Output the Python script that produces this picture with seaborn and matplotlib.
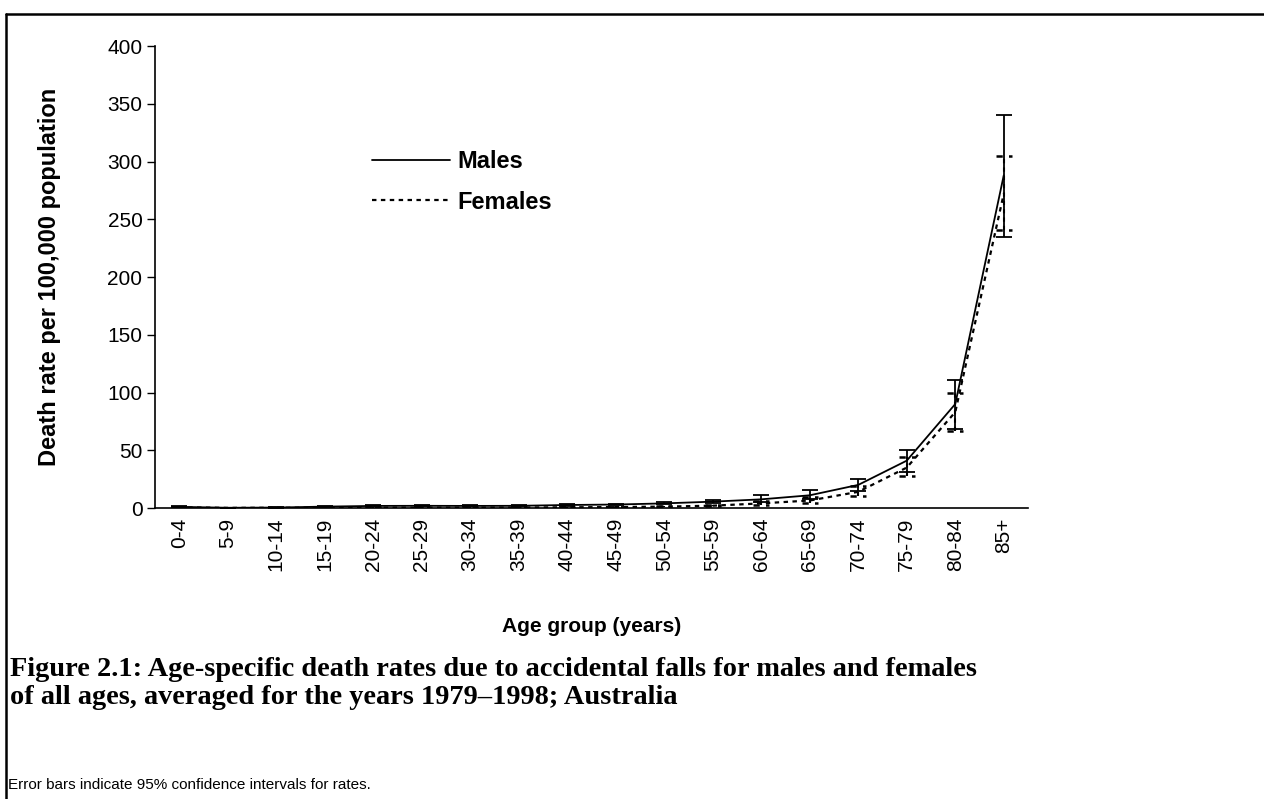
import numpy as np
import pandas as pd
import matplotlib
matplotlib.use("Agg")
import matplotlib.pyplot as plt
from matplotlib.lines import Line2D
import seaborn as sns

# Age groups and rates per 100,000
ages = ["0-4", "5-9", "10-14", "15-19", "20-24", "25-29", "30-34", "35-39", "40-44",
        "45-49", "50-54", "55-59", "60-64", "65-69", "70-74", "75-79", "80-84", "85+"]

males = [1.0, 0.2, 0.4, 1.2, 1.8, 1.9, 1.8, 1.9, 2.6, 3.0, 4.0, 5.5, 7.5, 11.0, 20.0, 41.0, 90.0, 288.0]
males_lo = [0.6, 0.1, 0.2, 0.8, 1.3, 1.4, 1.3, 1.4, 2.0, 2.3, 3.1, 4.3, 5.5, 7.5, 14.5, 31.0, 68.0, 235.0]
males_hi = [1.4, 0.4, 0.7, 1.6, 2.3, 2.4, 2.3, 2.5, 3.3, 3.8, 5.0, 6.8, 11.0, 15.5, 25.5, 50.0, 111.0, 340.0]

females = [0.6, 0.1, 0.2, 0.3, 0.3, 0.3, 0.3, 0.4, 0.6, 0.8, 1.2, 2.0, 4.0, 6.5, 14.0, 35.0, 83.0, 272.0]
females_lo = [0.3, 0.0, 0.1, 0.1, 0.1, 0.1, 0.1, 0.2, 0.3, 0.5, 0.7, 1.3, 3.0, 4.0, 10.5, 27.5, 67.0, 241.0]
females_hi = [0.9, 0.2, 0.3, 0.5, 0.5, 0.5, 0.5, 0.6, 0.9, 1.1, 1.7, 2.8, 6.0, 9.5, 19.0, 44.0, 100.0, 305.0]

yticks = [0, 50, 100, 150, 200, 250, 300, 350, 400]

pos = np.arange(len(ages))
df = pd.DataFrame({"pos": pos, "Males": males, "Females": females})

sns.set_style("white")
plt.rcParams["font.family"] = ["Liberation Sans", "DejaVu Sans"]
for k in ["text.color", "axes.labelcolor", "xtick.color", "ytick.color"]:
    plt.rcParams[k] = "black"

fig = plt.figure(figsize=(12.64, 7.99), dpi=100)
ax = fig.add_axes([155 / 1264, 1 - 508 / 799, 873 / 1264, 462 / 799])

sns.lineplot(data=df, x="pos", y="Males", ax=ax, color="black", lw=1.3, label="Males")
sns.lineplot(data=df, x="pos", y="Females", ax=ax, color="black", lw=1.6, label="Females")
ax.lines[1].set_dashes((2, 2))

# error bars (95% CI)
m_err = [np.subtract(males, males_lo), np.subtract(males_hi, males)]
f_err = [np.subtract(females, females_lo), np.subtract(females_hi, females)]
ax.errorbar(pos, males, yerr=m_err, fmt="none", ecolor="black", elinewidth=1.3,
            capsize=6, capthick=1.3)
fe = ax.errorbar(pos, females, yerr=f_err, fmt="none", ecolor="black", elinewidth=1.5,
                 capsize=0)
for lc in fe.lines[2]:
    lc.set_linestyle((0, (2, 2)))
# dashed caps for females
ax.hlines(females_lo, pos - 0.17, pos + 0.17, colors="black", lw=1.8, linestyles=(0, (2.5, 2.5)))
ax.hlines(females_hi, pos - 0.17, pos + 0.17, colors="black", lw=1.8, linestyles=(0, (2.5, 2.5)))

ax.set_xlim(-0.5, len(ages) - 0.5)
ax.set_ylim(0, 400)
ax.set_yticks(yticks)
ax.set_yticklabels([str(t) for t in yticks], fontsize=15)
ax.set_xticks(pos)
ax.set_xticklabels(ages, rotation=90, fontsize=15)
ax.set_xticks(np.arange(len(ages) + 1) - 0.5, minor=True)
ax.tick_params(axis="x", which="major", length=0, pad=7)
ax.tick_params(axis="x", which="minor", length=6, width=1, color="black", direction="out")
ax.tick_params(axis="y", length=6, width=1, color="black", direction="out", left=True, pad=3)

for s in ["top", "right"]:
    ax.spines[s].set_visible(False)
for s in ["left", "bottom"]:
    ax.spines[s].set_color("black")
    ax.spines[s].set_linewidth(1.2)

ax.set_ylabel("Death rate per 100,000 population", fontsize=17, fontweight="bold")
ax.yaxis.set_label_coords(-0.108, 0.5)
ax.set_xlabel("Age group (years)", fontsize=15, fontweight="bold")
ax.xaxis.set_label_coords(0.5, -0.235)

leg = ax.legend(loc="upper left", bbox_to_anchor=(0.249, 0.775), frameon=False,
                prop={"weight": "bold", "size": 17}, handlelength=3.3,
                handletextpad=0.3, labelspacing=0.75, borderpad=0, borderaxespad=0)

# caption and note
fig.text(10 / 1264, 1 - 669 / 799,
         "Figure 2.1: Age-specific death rates due to accidental falls for males and females",
         fontsize=20.4, fontweight="bold", family="Liberation Serif", va="center")
fig.text(10 / 1264, 1 - 697 / 799,
         "of all ages, averaged for the years 1979\u20131998; Australia",
         fontsize=20.4, fontweight="bold", family="Liberation Serif", va="center")
fig.text(8 / 1264, 1 - 785 / 799, "Error bars indicate 95% confidence intervals for rates.",
         fontsize=11, va="center")

# frame lines (top and left)
fig.add_artist(Line2D([6 / 1264, 1], [1 - 14 / 799, 1 - 14 / 799], color="black", lw=1.8))
fig.add_artist(Line2D([6 / 1264, 6 / 1264], [0, 1 - 14 / 799], color="black", lw=1.8))

fig.savefig("out.png", dpi=100)
